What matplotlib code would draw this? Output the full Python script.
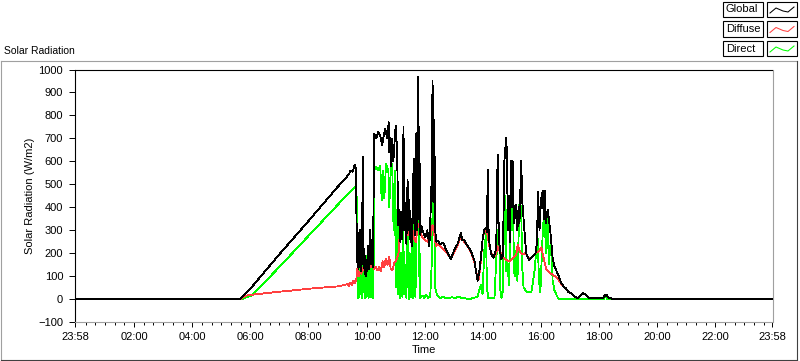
import matplotlib
matplotlib.use("Agg")
import matplotlib.pyplot as plt
from matplotlib.lines import Line2D
from matplotlib.patches import Rectangle

plt.rcParams['font.family'] = ['Liberation Sans', 'DejaVu Sans']
plt.rcParams['font.size'] = 8

# time in hours of day (axis runs 23:58 -> 23:58), values in W/m2
global_t = [-0.033, 5.65, 6.0, 7.0, 8.0, 9.0, 9.30, 9.40, 9.45, 9.52, 9.58, 9.62,
            9.66, 9.68, 9.70, 9.72, 9.74, 9.76, 9.78, 9.80, 9.82, 9.84, 9.87, 9.89,
            9.91, 9.93, 9.95, 9.97, 9.99, 10.02, 10.05, 10.09, 10.12, 10.15, 10.19, 10.22,
            10.26, 10.33, 10.40, 10.47, 10.54, 10.57, 10.64, 10.71, 10.76, 10.78, 10.81, 10.85,
            10.88, 10.92, 11.00, 11.05, 11.09, 11.12, 11.16, 11.19, 11.23, 11.27, 11.30, 11.33,
            11.37, 11.41, 11.44, 11.47, 11.51, 11.54, 11.57, 11.62, 11.66, 11.70, 11.73, 11.76,
            11.79, 11.81, 11.85, 11.88, 11.95, 12.02, 12.09, 12.16, 12.19, 12.23, 12.27, 12.30,
            12.33, 12.36, 12.40, 12.44, 12.53, 12.64, 12.77, 12.90, 13.02, 13.13, 13.25, 13.29,
            13.36, 13.47, 13.59, 13.71, 13.82, 13.88, 13.94, 14.00, 14.05, 14.11, 14.14, 14.17,
            14.19, 14.23, 14.29, 14.37, 14.46, 14.51, 14.55, 14.63, 14.69, 14.74, 14.80, 14.83,
            14.86, 14.90, 14.93, 14.97, 15.00, 15.03, 15.07, 15.15, 15.19, 15.23, 15.26, 15.32,
            15.36, 15.43, 15.49, 15.54, 15.60, 15.71, 15.81, 15.86, 15.90, 15.95, 16.00, 16.06,
            16.10, 16.14, 16.17, 16.23, 16.29, 16.35, 16.40, 16.47, 16.58, 16.70, 16.78, 16.87,
            16.95, 17.05, 17.16, 17.26, 17.33, 17.44, 17.54, 17.65, 17.79, 18.03, 18.13, 18.20,
            18.25, 18.30, 18.43, 18.47, 23.967]
global_v = [0, 0, 45, 195, 340, 488, 530, 545, 560, 555, 580, 585,
            300, 160, 290, 130, 260, 140, 300, 120, 240, 170, 620, 150,
            220, 110, 190, 100, 170, 120, 230, 130, 300, 150, 260, 140,
            720, 700, 730, 710, 670, 700, 740, 700, 770, 640, 700, 580,
            700, 600, 755, 650, 320, 390, 250, 380, 260, 750, 300, 420,
            240, 520, 300, 430, 250, 350, 230, 610, 280, 720, 300, 968,
            350, 750, 280, 320, 290, 270, 300, 230, 330, 480, 950, 420,
            780, 300, 250, 255, 240, 245, 205, 175, 215, 240, 290, 255,
            256, 233, 211, 167, 79, 120, 190, 270, 300, 310, 290, 564,
            320, 240, 195, 180, 220, 630, 260, 173, 190, 600, 700, 640,
            300, 450, 250, 600, 400, 600, 330, 410, 300, 400, 330, 600,
            420, 300, 200, 185, 170, 185, 200, 240, 465, 300, 430, 470,
            350, 470, 330, 390, 330, 260, 180, 140, 110, 70, 55, 45,
            30, 25, 10, 5, 10, 25, 20, 5, 5, 5, 5, 15,
            20, 8, 3, 0, 0]

diffuse_t = [5.65, 5.85, 6.0, 6.5, 7.0, 7.5, 8.0, 8.5, 9.0, 9.20, 9.35, 9.40,
             9.45, 9.50, 9.55, 9.60, 9.65, 9.68, 9.71, 9.74, 9.78, 9.82, 9.87, 9.92,
             9.98, 10.02, 10.09, 10.14, 10.20, 10.26, 10.32, 10.37, 10.44, 10.49, 10.55, 10.61,
             10.66, 10.72, 10.78, 10.83, 10.89, 10.95, 11.02, 11.10, 11.14, 11.18, 11.24, 11.30,
             11.35, 11.42, 11.47, 11.52, 11.58, 11.64, 11.70, 11.76, 11.81, 11.87, 11.92, 11.98,
             12.09, 12.19, 12.27, 12.33, 12.39, 12.44, 12.53, 12.64, 12.77, 12.90, 13.02, 13.13,
             13.25, 13.29, 13.36, 13.47, 13.59, 13.71, 13.82, 13.86, 13.92, 14.00, 14.11, 14.16,
             14.23, 14.30, 14.37, 14.46, 14.51, 14.57, 14.69, 14.80, 14.91, 15.02, 15.15, 15.20,
             15.26, 15.36, 15.47, 15.60, 15.71, 15.83, 15.95, 16.01, 16.07, 16.18, 16.26, 16.36,
             16.47, 16.57, 16.70, 16.78, 16.87, 16.95, 17.05, 17.16, 17.26, 17.33, 17.44, 17.54,
             17.65, 17.79, 18.03, 18.13, 18.20, 18.25, 18.30, 18.43, 18.47]
diffuse_v = [0, 15, 18, 25, 32, 38, 45, 50, 55, 60, 65, 58,
             72, 62, 80, 70, 90, 130, 115, 100, 120, 110, 135, 125,
             150, 140, 155, 140, 165, 130, 140, 125, 140, 120, 165, 140,
             175, 150, 182, 130, 125, 155, 170, 200, 280, 315, 300, 320,
             300, 280, 295, 270, 300, 260, 250, 330, 315, 280, 270, 260,
             250, 270, 322, 280, 230, 240, 230, 215, 200, 174, 205, 235,
             275, 260, 250, 230, 205, 160, 90, 85, 150, 275, 300, 280,
             226, 200, 180, 200, 230, 210, 185, 170, 165, 175, 195, 235,
             210, 195, 200, 175, 185, 200, 210, 225, 190, 130, 118, 110,
             100, 90, 65, 52, 43, 30, 25, 10, 6, 10, 25, 20,
             6, 5, 5, 5, 15, 20, 8, 3, 0]

direct_t = [5.70, 6.05, 7.0, 8.0, 9.0, 9.40, 9.50, 9.60, 9.65, 9.68, 9.70, 9.72,
            9.75, 9.77, 9.79, 9.81, 9.84, 9.87, 9.89, 9.91, 9.94, 9.97, 10.00, 10.03,
            10.07, 10.10, 10.14, 10.17, 10.21, 10.24, 10.26, 10.33, 10.40, 10.47, 10.52, 10.57,
            10.61, 10.67, 10.71, 10.75, 10.78, 10.83, 10.88, 10.93, 10.97, 11.01, 11.04, 11.06,
            11.09, 11.12, 11.16, 11.19, 11.23, 11.26, 11.30, 11.33, 11.37, 11.41, 11.45, 11.48,
            11.52, 11.55, 11.59, 11.64, 11.68, 11.71, 11.76, 11.80, 11.81, 11.85, 11.93, 11.98,
            12.05, 12.12, 12.19, 12.24, 12.30, 12.33, 12.36, 12.43, 12.53, 12.64, 12.74, 12.84,
            12.95, 13.05, 13.16, 13.26, 13.40, 13.54, 13.68, 13.82, 13.88, 13.94, 13.99, 14.05,
            14.11, 14.14, 14.19, 14.30, 14.40, 14.46, 14.51, 14.56, 14.59, 14.64, 14.69, 14.74,
            14.78, 14.81, 14.85, 14.90, 14.97, 15.00, 15.04, 15.07, 15.11, 15.15, 15.19, 15.26,
            15.32, 15.35, 15.40, 15.49, 15.55, 15.67, 15.78, 15.83, 15.89, 15.93, 15.98, 16.06,
            16.12, 16.17, 16.23, 16.27, 16.35, 16.40, 16.47, 16.58, 16.64, 18.16, 18.23, 18.28,
            18.43]
direct_v = [0, 15, 140, 275, 410, 462, 475, 490, 495, 250, 6, 200,
            10, 240, 20, 180, 5, 430, 30, 150, 5, 120, 10, 200,
            5, 160, 8, 150, 5, 110, 560, 575, 560, 580, 430, 560,
            440, 590, 575, 560, 400, 560, 590, 300, 560, 50, 250, 390,
            20, 330, 5, 200, 10, 300, 20, 150, 5, 285, 0, 200,
            10, 250, 5, 370, 10, 200, 570, 100, 300, 5, 15, 5,
            20, 5, 10, 150, 630, 350, 50, 15, 5, 10, 3, 5,
            8, 3, 10, 5, 3, 0, 5, 10, 40, 60, 20, 210,
            285, 50, 5, 3, 5, 167, 270, 329, 50, 5, 35, 460,
            420, 120, 160, 60, 446, 300, 440, 120, 100, 211, 80, 417,
            400, 150, 50, 35, 30, 30, 123, 200, 263, 80, 30, 285,
            402, 200, 358, 150, 270, 80, 35, 6, 0, 0, 14, 0,
            0]

tick_pos = [-0.033, 2, 4, 6, 8, 10, 12, 14, 16, 18, 20, 22, 23.967]
tick_labels = ['23:58', '02:00', '04:00', '06:00', '08:00', '10:00', '12:00',
               '14:00', '16:00', '18:00', '20:00', '22:00', '23:58']
minor_pos = [m / 3.0 for m in range(1, 72)]

fig = plt.figure(figsize=(8, 3.61), dpi=100)
W, H = 800.0, 361.0
ax = fig.add_axes([75 / W, 1 - 322 / H, 697.5 / W, 252.5 / H])

ax.plot(direct_t, direct_v, color='#00ff00', lw=0.6, zorder=2, antialiased=False)
ax.plot(diffuse_t, diffuse_v, color='#ff4040', lw=0.6, zorder=3, antialiased=False)
ax.plot(global_t, global_v, color='black', lw=0.6, zorder=4, antialiased=False)

ax.set_xlim(-0.033, 23.967)
ax.set_ylim(-100, 1000)
ax.set_yticks(range(-100, 1001, 100))
ax.set_xticks(tick_pos)
ax.set_xticklabels(tick_labels)
ax.set_xticks(minor_pos, minor=True)
ax.tick_params(axis='y', length=4.5, width=0.7, pad=4, labelsize=8)
ax.tick_params(axis='x', which='major', length=3.5, width=0.7, pad=4, labelsize=8)
ax.tick_params(axis='x', which='minor', length=2.5, width=0.7)
ax.set_ylabel('Solar Radiation (W/m2)', fontsize=8, labelpad=2)
ax.set_xlabel('Time', fontsize=8, labelpad=2)

ax.spines['left'].set_color('black')
ax.spines['top'].set_color('black')
ax.spines['right'].set_color('#a0a0a0')
ax.spines['bottom'].set_color('#a0a0a0')
for s in ax.spines.values():
    s.set_linewidth(0.8)

# outer panel frame
def px_line(x0, y0, x1, y1, color):
    fig.add_artist(Line2D([x0 / W, x1 / W], [1 - y0 / H, 1 - y1 / H],
                          transform=fig.transFigure, color=color, lw=0.8))

px_line(1, 61, 797, 61, '#a0a0a0')
px_line(1, 61, 1, 360, '#a0a0a0')
px_line(1, 360, 797, 360, '#404040')
px_line(797, 61, 797, 360, '#404040')

fig.text(4 / W, 1 - 51 / H, 'Solar Radiation', fontsize=7.5, va='center', ha='left')

# legend boxes
legend_names = ['Global', 'Diffuse', 'Direct']
legend_colors = ['black', '#ff4040', '#00ff00']
for i, (name, col) in enumerate(zip(legend_names, legend_colors)):
    top = 2 + i * 19.5
    fig.add_artist(Rectangle((723 / W, 1 - (top + 15) / H), 40 / W, 15 / H,
                             transform=fig.transFigure, fill=False, ec='black', lw=0.8))
    fig.add_artist(Rectangle((767 / W, 1 - (top + 15) / H), 30 / W, 15 / H,
                             transform=fig.transFigure, fill=False, ec='black', lw=0.8))
    fig.text(726 / W, 1 - (top + 7.5) / H, name, fontsize=8, va='center', ha='left')
    xs = [770, 776, 783, 788, 794]
    ys = [top + 11, top + 6, top + 9, top + 10, top + 5]
    fig.add_artist(Line2D([x / W for x in xs], [1 - y / H for y in ys],
                          transform=fig.transFigure, color=col, lw=0.75))

fig.savefig('out.png', dpi=100)
